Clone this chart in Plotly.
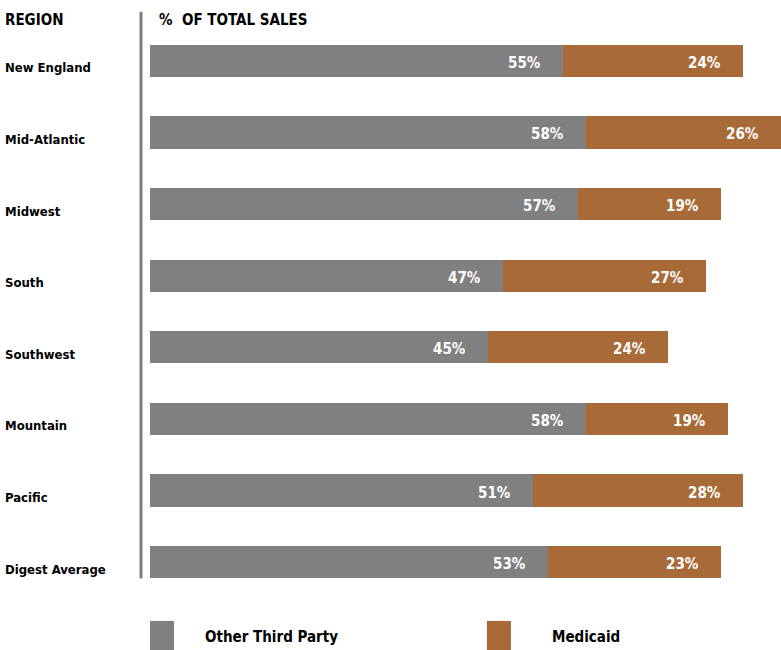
import plotly.graph_objects as go

regions = ["New England", "Mid-Atlantic", "Midwest", "South", "Southwest",
           "Mountain", "Pacific", "Digest Average"]
other_third_party = [55, 58, 57, 47, 45, 58, 51, 53]
medicaid = [24, 26, 19, 27, 24, 19, 28, 23]

GRAY = "#808080"
BROWN = "#A86B38"
FONT = "DejaVu Sans"

def f(size, color="black"):
    return dict(family=FONT, size=size, color=color, weight="bold")

def cond(t):
    return f'<span style="font-stretch:condensed">{t}</span>'

fig = go.Figure()
fig.add_trace(go.Bar(y=regions, x=other_third_party, orientation="h", name="Other Third Party",
                     marker=dict(color=GRAY, line=dict(width=0)), width=0.45, hoverinfo="x+name"))
fig.add_trace(go.Bar(y=regions, x=medicaid, orientation="h", name="Medicaid",
                     marker=dict(color=BROWN, line=dict(width=0)), width=0.45, hoverinfo="x+name"))

ann = []
for r, o, m in zip(regions, other_third_party, medicaid):
    ann.append(dict(x=o, y=r, xref="x", yref="y", text=cond(f"{o}%"), showarrow=False,
                    xanchor="right", xshift=-20, yshift=-2, font=f(15, "white")))
    ann.append(dict(x=o + m, y=r, xref="x", yref="y", text=cond(f"{m}%"), showarrow=False,
                    xanchor="right", xshift=-20, yshift=-2, font=f(15, "white")))
    ann.append(dict(x=0, y=r, xref="paper", yref="y", text=cond(r), showarrow=False,
                    xanchor="left", xshift=-147, yshift=-7, font=f(13)))

ann.append(dict(x=0, y=1, xref="paper", yref="paper", text=cond("REGION"), showarrow=False,
                xanchor="left", yanchor="middle", xshift=-147, yshift=5, font=f(15)))
ann.append(dict(x=0, y=1, xref="paper", yref="paper", text=cond("%  OF TOTAL SALES"), showarrow=False,
                xanchor="left", yanchor="middle", xshift=7, yshift=5, font=f(15)))
ann.append(dict(x=0.0837, y=-0.06, xref="paper", yref="paper", text=cond("Other Third Party"),
                showarrow=False, xanchor="left", yanchor="middle", yshift=-5, font=f(15)))
ann.append(dict(x=0.634, y=-0.06, xref="paper", yref="paper", text=cond("Medicaid"),
                showarrow=False, xanchor="left", yanchor="middle", yshift=-5, font=f(15)))

shapes = [
    dict(type="line", xref="paper", yref="paper", x0=-0.0143, x1=-0.0143, y0=1.023, y1=0.034,
         line=dict(color=GRAY, width=3)),
    dict(type="rect", xref="paper", yref="paper", x0=0.0, x1=0.038, y0=-0.04, y1=-0.093,
         fillcolor=GRAY, line=dict(width=0)),
    dict(type="rect", xref="paper", yref="paper", x0=0.534, x1=0.572, y0=-0.04, y1=-0.093,
         fillcolor=BROWN, line=dict(width=0)),
]

fig.update_layout(
    barmode="stack",
    width=781, height=650,
    margin=dict(l=150, r=0, t=25, b=52),
    paper_bgcolor="white", plot_bgcolor="white",
    showlegend=False,
    annotations=ann,
    shapes=shapes,
    xaxis=dict(range=[0, 84], visible=False, fixedrange=True),
    yaxis=dict(categoryorder="array", categoryarray=regions, autorange="reversed",
               showticklabels=False, showgrid=False, zeroline=False, showline=False,
               ticks="", fixedrange=True),
    font=dict(family=FONT),
)

fig.write_html("out.html")
